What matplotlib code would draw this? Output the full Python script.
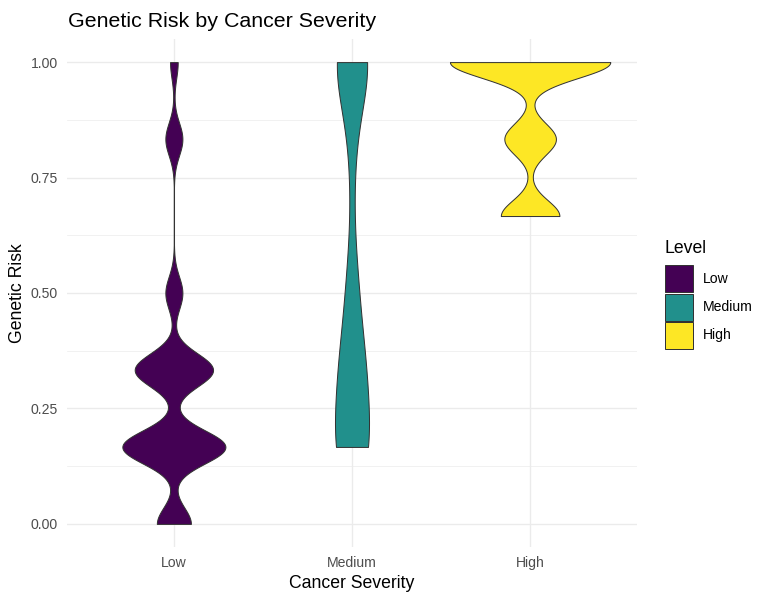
#!/usr/bin/env python3
"""Violin plot of genetic risk by cancer severity (ggplot2 theme_minimal look)."""

import matplotlib
import matplotlib.pyplot as plt
import numpy as np
from matplotlib.patches import Rectangle

matplotlib.use("Agg")
matplotlib.rcParams["font.family"] = ["Liberation Sans", "DejaVu Sans"]

# ---------------------------------------------------------------------
# Data: genetic risk takes discrete levels; counts per severity group
# ---------------------------------------------------------------------
categories = ["Low", "Medium", "High"]
risk_levels = [0.0, 1 / 6, 1 / 3, 1 / 2, 2 / 3, 5 / 6, 1.0]
counts_low = [40, 121, 92, 20, 0, 20, 9]
counts_medium = [0, 90, 66, 31, 7, 15, 97]
counts_high = [0, 0, 0, 0, 84, 74, 230]
fill_colors = ["#440154", "#21908C", "#FDE725"]

y_ticks = [0.0, 0.25, 0.5, 0.75, 1.0]
y_minor = [0.125, 0.375, 0.625, 0.875]

W, H, DPI = 772, 603, 96
GRID = "#EBEBEB"
TEXT_GREY = "#4D4D4D"


def bw_nrd0(x):
    # same rule of thumb as R's density() default
    hi = np.std(x, ddof=1)
    iqr = np.subtract(*np.percentile(x, [75, 25]))
    lo = min(hi, iqr / 1.34)
    return 0.9 * lo * len(x) ** -0.2


def violin_density(counts):
    x = np.repeat(risk_levels, counts)
    bw = bw_nrd0(x)
    ys = np.linspace(x.min(), x.max(), 512)
    z = (ys[:, None] - x[None, :]) / bw
    dens = np.exp(-0.5 * z ** 2).sum(axis=1) / (len(x) * bw * np.sqrt(2 * np.pi))
    return ys, dens


def px_x(px):
    return px / W


def px_y(px):
    return 1 - px / H


fig = plt.figure(figsize=(W / DPI, H / DPI), dpi=DPI)
ax = fig.add_axes([px_x(67), px_y(547), 570 / W, 508 / H])

# grid like theme_minimal
for v in y_minor:
    ax.axhline(v, color=GRID, lw=0.5, zorder=0)
for v in y_ticks:
    ax.axhline(v, color=GRID, lw=1.0, zorder=0)
for i in range(len(categories)):
    ax.axvline(i + 1, color=GRID, lw=1.0, zorder=0)

# violins, scale = "area": common density scaling, max full width 0.9
profiles = [violin_density(c) for c in (counts_low, counts_medium, counts_high)]
dmax = max(d.max() for _, d in profiles)
for i, ((ys, dens), col) in enumerate(zip(profiles, fill_colors)):
    half = 0.45 * dens / dmax
    ax.fill_betweenx(ys, i + 1 - half, i + 1 + half, facecolor=col,
                     edgecolor="#333333", lw=0.75, zorder=2)

ax.set_xlim(0.4, 3.6)
ax.set_ylim(-0.05, 1.05)
ax.set_xticks(range(1, len(categories) + 1))
ax.set_xticklabels(categories)
ax.set_yticks(y_ticks)
ax.set_yticklabels([f"{v:.2f}" for v in y_ticks])
ax.tick_params(length=0, labelsize=10.5, labelcolor=TEXT_GREY)
ax.tick_params(axis="x", pad=7)
ax.tick_params(axis="y", pad=7)
for s in ax.spines.values():
    s.set_visible(False)

# titles
fig.text(px_x(68), px_y(27), "Genetic Risk by Cancer Severity", fontsize=16,
         ha="left", va="baseline", color="black")
fig.text(px_x(352), px_y(583), "Cancer Severity", fontsize=13.2,
         ha="center", va="center")
fig.text(px_x(18), px_y(293), "Genetic Risk", fontsize=13.2, rotation=90,
         ha="center", va="center")

# legend
fig.text(px_x(665), px_y(253), "Level", fontsize=13.2, ha="left", va="baseline")
for i, (name, col) in enumerate(zip(categories, fill_colors)):
    top = 265 + i * 28.5
    fig.add_artist(Rectangle((px_x(665), px_y(top + 27)), 28 / W, 27 / H,
                             transform=fig.transFigure, facecolor=col,
                             edgecolor="#333333", lw=0.75))
    fig.text(px_x(703), px_y(top + 13.5), name, fontsize=10.5,
             ha="left", va="center", color="black")

fig.savefig("out.png", dpi=DPI)
